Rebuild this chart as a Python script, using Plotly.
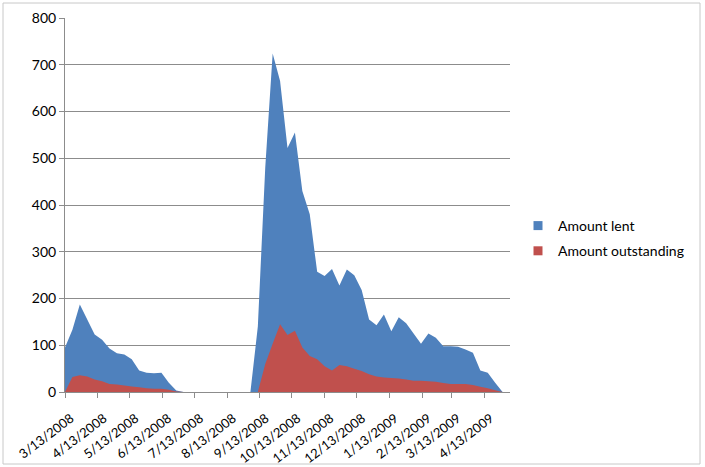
import pandas as pd
import plotly.graph_objects as go

# Weekly observation dates (Thursday weeks) from 3/13/2008 to 5/7/2009
start_date = "2008-03-13"
n_weeks = 61
dates = pd.date_range(start_date, periods=n_weeks, freq="7D")

amount_lent = [
    95, 133, 187, 155, 123, 112, 93, 83, 80, 70,
    46, 41, 40, 41, 20, 3, 0, 0, 0, 0,
    0, 0, 0, 0, 0, 0, 140, 480, 724, 665,
    522, 555, 430, 380, 257, 248, 263, 228, 262, 250,
    218, 155, 143, 166, 130, 160, 147, 125, 103, 125,
    116, 98, 98, 97, 91, 84, 46, 41, 20, 0,
    0,
]

amount_outstanding = [
    0, 32, 36, 33, 27, 23, 17, 16, 14, 12,
    10, 8, 7, 7, 5, 1, 0, 0, 0, 0,
    0, 0, 0, 0, 0, 0, 0, 60, 103, 145,
    122, 131, 95, 77, 70, 55, 46, 58, 55, 50,
    45, 38, 33, 31, 30, 29, 27, 24, 24, 23,
    22, 19, 17, 17, 17, 15, 11, 8, 4, 0,
    0,
]

tick_labels = [
    "3/13/2008", "4/13/2008", "5/13/2008", "6/13/2008", "7/13/2008",
    "8/13/2008", "9/13/2008", "10/13/2008", "11/13/2008", "12/13/2008",
    "1/13/2009", "2/13/2009", "3/13/2009", "4/13/2009",
]
y_ticks = [0, 100, 200, 300, 400, 500, 600, 700, 800]

series_names = ["Amount lent", "Amount outstanding"]
series_colors = ["#4F81BD", "#C0504D"]

tick_dates = pd.to_datetime(tick_labels, format="%m/%d/%Y")

FONT = "Lato, Calibri, Carlito, 'Open Sans', sans-serif"
GRID = "#8c8c8c"

fig = go.Figure()
for name, vals, col in zip(series_names, [amount_lent, amount_outstanding], series_colors):
    fig.add_trace(go.Scatter(
        x=dates, y=vals, mode="none", fill="tozeroy",
        fillcolor=col, name=name, showlegend=False, hoverinfo="x+y",
    ))
# legend swatches (empty traces on the overlay axis so it gets drawn)
for i, (name, col) in enumerate(zip(series_names, series_colors)):
    fig.add_trace(go.Scatter(
        x=[None], y=[None], mode="markers", name=name,
        marker=dict(symbol="square", size=9, color=col),
        legendgroup=f"g{i}", showlegend=True, xaxis="x2",
    ))

# plot area pixel geometry
L, R, T, B = 65, 510, 18, 392
W, H = 705, 467
pw, ph = R - L, B - T

def px(x):
    return (x - L) / pw

def py(y):
    return (B - y) / ph

xrange_ = [dates[0], dates[-1]]

fig.update_layout(
    width=W, height=H,
    margin=dict(l=L, r=W - R, t=T, b=H - B, pad=0, autoexpand=False),
    paper_bgcolor="white", plot_bgcolor="white",
    font=dict(family=FONT, size=14, color="#000000"),
    showlegend=True,
    legend=dict(
        x=px(518), y=py(210), xanchor="left", yanchor="top",
        font=dict(family=FONT, size=14, color="#000000"),
        bgcolor="rgba(0,0,0,0)", tracegroupgap=4, itemwidth=30,
    ),
    # labelled axis: invisible long ticks push the rotated labels down
    xaxis=dict(
        type="date", automargin=False, range=xrange_,
        tickmode="array", tickvals=tick_dates, ticktext=tick_labels,
        tickangle=-37, ticks="outside", ticklen=13,
        tickcolor="rgba(0,0,0,0)", ticklabelshift=6,
        showline=True, linecolor=GRID, linewidth=1,
        showgrid=False, zeroline=False,
        tickfont=dict(family=FONT, size=13, color="#000000"),
    ),
    # overlay axis that draws the short visible tick marks
    xaxis2=dict(
        type="date", automargin=False, range=xrange_,
        overlaying="x", anchor="y", side="bottom",
        tickmode="array", tickvals=tick_dates, showticklabels=False,
        ticks="outside", ticklen=5, tickcolor=GRID,
        showline=False, showgrid=False, zeroline=False,
    ),
    yaxis=dict(
        range=[0, 800], tickmode="array", tickvals=y_ticks, automargin=False,
        ticks="outside", ticklen=5, tickcolor=GRID,
        showline=True, linecolor=GRID, linewidth=1,
        showgrid=True, gridcolor=GRID, gridwidth=1, zeroline=False,
        tickfont=dict(family=FONT, size=14, color="#000000"),
    ),
    shapes=[dict(
        type="rect", xref="paper", yref="paper",
        x0=px(3), x1=px(700), y0=py(464), y1=py(3),
        line=dict(color="#c8c8c8", width=1), fillcolor="rgba(0,0,0,0)",
        layer="below",
    )],
)

fig.write_html("out.html")
